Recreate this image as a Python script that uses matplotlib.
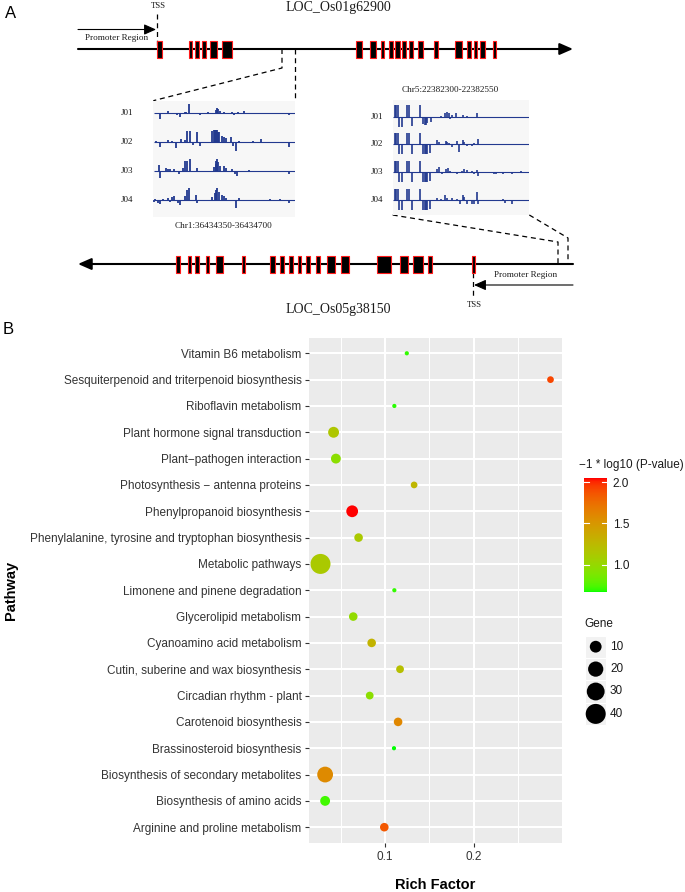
import numpy as np
import matplotlib
matplotlib.use("Agg")
import matplotlib.pyplot as plt
from matplotlib.colors import ListedColormap, Normalize
from matplotlib.cm import ScalarMappable

W, H = 685, 892
SERIF = ["Liberation Serif", "DejaVu Serif"]
SANS = ["Liberation Sans", "DejaVu Sans"]
NAVY = "#22398f"

# ---------------- panel A data ----------------
gene1_exon_start = [157.2, 188.6, 195.2, 201.7, 210.5, 221.8, 355.9, 370.3, 381.2, 388.6,
                    395.2, 401.7, 409.2, 418.3, 434.5, 455.5, 467.2, 473.8, 480.3, 493.4]
gene1_exon_end = [162.4, 192.1, 199.1, 206.1, 216.6, 232.3, 361.6, 376.4, 384.3, 393.0,
                  399.6, 406.1, 413.1, 422.7, 437.6, 461.6, 470.7, 477.3, 484.7, 496.5]
gene2_exon_start = [176.1, 188.4, 195.1, 206.2, 215.7, 241.9, 269.7, 280.4, 289.2, 297.9,
                    306.2, 316.5, 326.9, 341.5, 377.3, 400.3, 413.4, 428.4, 471.7]
gene2_exon_end = [180.0, 191.5, 199.1, 209.4, 222.9, 245.5, 274.9, 284.0, 292.7, 301.5,
                  309.8, 320.1, 334.8, 349.1, 390.7, 408.2, 423.3, 432.0, 474.9]

track_names = ["J01", "J02", "J03", "J04"]

# coverage tracks, (offset in bp, signal); positive = up, negative = down
chr1_j01 = [(16, -18), (35, 6), (46, -3), (57, -5), (64, -12), (76, 4), (80, 5), (86, 28),
            (114, -4), (134, 3), (153, 10), (157, 15), (160, 12), (163, 6), (173, 3),
            (188, -3), (195, 3), (199, -4), (205, -3), (209, 4), (223, 8), (335, -6)]
chr1_j02 = [(6, 3), (16, -14), (35, 6), (46, 5), (54, -16), (68, 10), (76, 6), (83, 35),
            (89, 35), (97, -8), (107, 30), (114, -10), (145, 35), (148, 36), (151, 37),
            (154, 37), (157, 37), (160, 32), (162, 30), (168, 18), (173, 15), (180, 12),
            (192, 15), (197, -10), (203, -25), (211, 5), (246, 3), (265, 10), (335, -13)]
chr1_j03 = [(12, 18), (16, -22), (29, 10), (35, 6), (41, 5), (51, 6), (62, -8), (72, 10),
            (76, 30), (83, 30), (89, 36), (107, 8), (114, -3), (149, 12), (153, 20),
            (155, 30), (157, 35), (160, 28), (163, 15), (173, 15), (180, 8), (195, 5),
            (201, -8), (205, -15), (236, 4), (335, -10)]
chr1_j04 = [(1, -5), (4, 4), (10, -8), (16, -12), (22, 4), (35, 6), (39, -6), (46, 10),
            (51, 12), (60, -10), (64, -15), (76, 12), (83, 30), (87, 35), (105, 15),
            (108, -8), (145, 10), (151, 20), (155, 30), (157, 35), (162, 25), (168, 15),
            (173, 12), (178, 6), (203, -25), (211, 5), (289, 2), (313, 3), (335, -8)]

chr5_head = [(3.1, 35), (5.5, 35), (8.0, 35), (11.0, -30), (16.5, -30), (25.7, 35),
             (29.4, 35), (33.7, -28), (49.0, 35)]
chr5_j01 = chr5_head + [(55.1, -22), (57.6, -26), (60.0, -26), (62.5, -20), (68.6, -15),
                        (87, 3), (95, 12), (98, 15), (101.7, 12), (104.2, -8), (107.2, 4),
                        (115.2, 10), (119.5, -5), (127.4, 5), (134.8, 3), (154.4, 10),
                        (223.6, -5)]
chr5_j02 = chr5_head + [(55.1, -30), (57.6, -30), (60.0, -30), (62.5, -30), (67.4, -25),
                        (80.9, 12), (84.6, 6), (96.8, 10), (99.3, 8), (102.9, 5),
                        (107.2, -8), (116.4, 10), (121.3, -22), (127.4, 12), (130.5, 8),
                        (134.8, -5), (144, -6), (148.3, 5), (156.2, 15)]
chr5_j03 = chr5_head + [(55.1, -30), (57.6, -30), (60.0, -30), (62.5, -30), (67.4, -25),
                        (80.9, 10), (84.6, 15), (88.8, -6), (96.8, 10), (101.1, 12),
                        (104.2, 5), (117.6, -6), (125.6, 5), (130.5, 10), (134.8, 6),
                        (144, 5), (148.3, -6), (153.2, 8), (156.2, -10), (185, -5),
                        (188.7, -5), (201, -5), (217.5, -4), (234, 3)]
chr5_j04 = chr5_head + [(55.1, -30), (57.6, -30), (60.0, -30), (62.5, -30), (67.4, -25),
                        (80.9, 8), (87, 4), (95, 15), (98, 8), (107.8, 6), (117.6, 5),
                        (122.5, -10), (127.4, 15), (130.5, 10), (134.8, -10), (144, -12),
                        (148.3, -12), (153.2, 25), (156.2, -12), (201, 5), (205.3, -8),
                        (217.5, -10)]

# ---------------- panel B data ----------------
pathways = [
    "Vitamin B6 metabolism",
    "Sesquiterpenoid and triterpenoid biosynthesis",
    "Riboflavin metabolism",
    "Plant hormone signal transduction",
    "Plant\u2212pathogen interaction",
    "Photosynthesis \u2212 antenna proteins",
    "Phenylpropanoid biosynthesis",
    "Phenylalanine, tyrosine and tryptophan biosynthesis",
    "Metabolic pathways",
    "Limonene and pinene degradation",
    "Glycerolipid metabolism",
    "Cyanoamino acid metabolism",
    "Cutin, suberine and wax biosynthesis",
    "Circadian rhythm - plant",
    "Carotenoid biosynthesis",
    "Brassinosteroid biosynthesis",
    "Biosynthesis of secondary metabolites",
    "Biosynthesis of amino acids",
    "Arginine and proline metabolism",
]
rich_factor = [0.1245, 0.286, 0.1105, 0.0422, 0.0448, 0.1327, 0.0631, 0.0703, 0.0275, 0.1105,
               0.0643, 0.085, 0.1169, 0.0828, 0.1147, 0.1101, 0.0327, 0.0327, 0.0992]
neg_log_p = [0.70, 1.92, 0.69, 1.15, 0.95, 1.27, 2.045, 1.12, 1.12, 0.70,
             0.98, 1.30, 1.20, 0.95, 1.60, 0.666, 1.58, 0.72, 1.85]
gene_count = [1, 2, 1, 8, 6, 2, 10, 4, 40, 1, 4, 4, 3, 3, 4, 1, 22, 6, 4]
size_breaks = [10, 20, 30, 40]
cbar_ticks = [1.0, 1.5, 2.0]


def fig_box(x0, y0, x1, y1):
    return [x0 / W, 1 - y1 / H, (x1 - x0) / W, (y1 - y0) / H]


# green -> red gradient interpolated in CIELAB (like ggplot's scale_colour_gradient)
_M = np.array([[0.4124, 0.3576, 0.1805], [0.2126, 0.7152, 0.0722], [0.0193, 0.1192, 0.9505]])
_WP = np.array([0.95047, 1.0, 1.08883])


def rgb2lab(rgb):
    c = np.asarray(rgb, float)
    c = np.where(c > 0.04045, ((c + 0.055) / 1.055) ** 2.4, c / 12.92)
    xyz = _M @ c / _WP
    f = np.where(xyz > 0.008856, np.cbrt(xyz), 7.787 * xyz + 16 / 116)
    return np.array([116 * f[1] - 16, 500 * (f[0] - f[1]), 200 * (f[1] - f[2])])


def lab2rgb(lab):
    L, a, b = lab
    fy = (L + 16) / 116
    f = np.array([fy + a / 500, fy, fy - b / 200])
    xyz = np.where(f ** 3 > 0.008856, f ** 3, (f - 16 / 116) / 7.787) * _WP
    c = np.linalg.solve(_M, xyz)
    c = np.clip(c, 0, 1)
    c = np.where(c > 0.0031308, 1.055 * c ** (1 / 2.4) - 0.055, 12.92 * c)
    return np.clip(c, 0, 1)


lab_lo, lab_hi = rgb2lab([0, 1, 0]), rgb2lab([1, 0, 0])
cmap = ListedColormap([lab2rgb(lab_lo + t * (lab_hi - lab_lo)) for t in np.linspace(0, 1, 256)])
norm = Normalize(vmin=min(neg_log_p), vmax=max(neg_log_p))

g_lo, g_hi = min(gene_count), max(gene_count)


def size_pt2(g):
    d_px = 4.2 + 15.8 * np.sqrt((np.asarray(g, float) - g_lo) / (g_hi - g_lo))
    return (d_px * 0.72) ** 2


fig = plt.figure(figsize=(W / 100, H / 100), dpi=100)
ax0 = fig.add_axes([0, 0, 1, 1])
ax0.set_xlim(0, W)
ax0.set_ylim(H, 0)
ax0.axis("off")

txt = dict(family=SERIF, color="#1a1a1a")
dash = dict(color="black", lw=0.9, ls=(0, (4, 3)))

ax0.text(11, 13, "A", family=SANS, fontsize=12, ha="center", va="center")
ax0.text(8, 329, "B", family=SANS, fontsize=12, ha="center", va="center")

# ---- gene 1 (forward) ----
y1 = 49
ax0.annotate("", xy=(573, y1), xytext=(78, y1),
             arrowprops=dict(arrowstyle="-|>,head_length=0.8,head_width=0.35", lw=1.5,
                             color="black", shrinkA=0, shrinkB=0, mutation_scale=10))
ax0.bar(gene1_exon_start, 17, width=np.subtract(gene1_exon_end, gene1_exon_start),
        bottom=y1 - 8.5, align="edge", color="black", edgecolor="#ff1a1a", lw=0.8, zorder=3)
ax0.annotate("", xy=(156, 29.5), xytext=(78, 29.5),
             arrowprops=dict(arrowstyle="-|>,head_length=0.9,head_width=0.4", lw=0.8,
                             color="black", shrinkA=0, shrinkB=0, mutation_scale=8))
ax0.text(117, 38.5, "Promoter Region", fontsize=6.6, ha="center", va="center", **txt)
ax0.plot([157.5, 157.5], [14, y1], **dash)
ax0.text(158, 6, "TSS", fontsize=6.3, ha="center", va="center", **txt)
ax0.text(338, 8, "LOC_Os01g62900", fontsize=10, ha="center", va="center", **txt)

# ---- gene 2 (reverse) ----
y2 = 264
ax0.annotate("", xy=(78, y2), xytext=(573, y2),
             arrowprops=dict(arrowstyle="-|>,head_length=0.8,head_width=0.35", lw=1.5,
                             color="black", shrinkA=0, shrinkB=0, mutation_scale=10))
ax0.bar(gene2_exon_start, 17, width=np.subtract(gene2_exon_end, gene2_exon_start),
        bottom=y2 - 8.5, align="edge", color="black", edgecolor="#ff1a1a", lw=0.8, zorder=3)
ax0.annotate("", xy=(474, 285), xytext=(573, 285),
             arrowprops=dict(arrowstyle="-|>,head_length=0.9,head_width=0.4", lw=0.8,
                             color="black", shrinkA=0, shrinkB=0, mutation_scale=8))
ax0.text(526, 275, "Promoter Region", fontsize=6.6, ha="center", va="center", **txt)
ax0.plot([473.5, 473.5], [y2, 298], **dash)
ax0.text(474, 305, "TSS", fontsize=6.3, ha="center", va="center", **txt)
ax0.text(338, 309, "LOC_Os05g38150", fontsize=10, ha="center", va="center", **txt)


def draw_tracks(box, length, tracks, bases, ybottom, label_off, bar_lw):
    ax = fig.add_axes(fig_box(*box))
    ax.set_facecolor("#f7f7f7")
    ax.set_xlim(-length * 0.004, length)
    ax.set_ylim(ybottom, 0)
    for name, data, base in zip(track_names, tracks, bases):
        pos = [p for p, h in data]
        hts = np.array([h for p, h in data], float)
        ax.vlines(pos, base, base - hts, color=NAVY, lw=bar_lw)
        ax.hlines(base, 0, length, color=NAVY, lw=0.8)
        ax.annotate(name, xy=(0, base), xycoords=ax.get_yaxis_transform(),
                    xytext=(-label_off, 0), textcoords="offset points",
                    ha="center", va="center", fontsize=6.5, annotation_clip=False, **txt)
    for s in ax.spines.values():
        s.set_visible(False)
    ax.set_xticks([])
    ax.set_yticks([])
    return ax


box1 = (153.3, 100.7, 295, 216.7)
box2 = (392.7, 100, 529.3, 215)
draw_tracks(box1, 350, [chr1_j01, chr1_j02, chr1_j03, chr1_j04], [38, 125, 211, 298], 348, 19, 1.3)
draw_tracks(box2, 250, [chr5_j01, chr5_j02, chr5_j03, chr5_j04], [50, 133, 217, 301], 345, 11.5, 1.2)
ax0.text(224, 226, "Chr1:36434350-36434700", fontsize=6.6, ha="center", va="center", **txt)
ax0.text(450, 90, "Chr5:22382300-22382550", fontsize=6.6, ha="center", va="center", **txt)

# connectors
ax0.plot([282, 282, box1[0]], [y1, 68, box1[1]], **dash)
ax0.plot([295.5, 295.5], [y1, box1[1]], **dash)
ax0.plot([box2[0], 558, 558], [box2[3], 242, y2], **dash)
ax0.plot([box2[2], 568, 568], [box2[3], 238, y2], **dash)

# ---------------- panel B ----------------
axb = fig.add_axes(fig_box(309, 337.5, 562, 843))
axb.set_facecolor("#ebebeb")
ypos = np.arange(len(pathways))
axb.scatter(rich_factor, ypos, s=size_pt2(gene_count), c=neg_log_p, cmap=cmap, norm=norm,
            edgecolors="none", zorder=3)
lo, hi = min(rich_factor), max(rich_factor)
pad = 0.05 * (hi - lo)
axb.set_xlim(lo - pad, hi + pad)
axb.set_ylim(len(pathways) - 0.4, -0.6)
axb.set_xticks([0.1, 0.2])
axb.set_xticklabels(["0.1", "0.2"])
axb.set_xticks([0.05, 0.15, 0.25], minor=True)
axb.set_yticks(ypos)
axb.set_yticklabels(pathways)
axb.grid(which="major", color="white", lw=1.5)
axb.grid(which="minor", axis="x", color="white", lw=0.75)
axb.set_axisbelow(True)
for s in axb.spines.values():
    s.set_visible(False)
axb.tick_params(which="major", length=2.9, width=0.8, color="#333333", labelsize=8.5,
                labelcolor="#333333", pad=2.5)
axb.tick_params(which="minor", length=0)
for lab in axb.get_xticklabels() + axb.get_yticklabels():
    lab.set_family(SANS)
axb.set_xlabel("Rich Factor", family=SANS, fontsize=10.5, fontweight="bold", va="center")
axb.xaxis.set_label_coords(0.5, (843 - 885) / 505.5)
axb.set_ylabel("Pathway", family=SANS, fontsize=10.5, fontweight="bold", va="center", ha="center")
axb.yaxis.set_label_coords((11 - 309) / 253, 0.5)

# colour bar legend
cax = fig.add_axes(fig_box(584, 478.3, 606.7, 592.3))
cb = fig.colorbar(ScalarMappable(norm=norm, cmap=cmap), cax=cax)
cb.outline.set_visible(False)
cb.set_ticks(cbar_ticks)
cb.set_ticklabels(["%.1f" % t for t in cbar_ticks])
cax.tick_params(length=0, labelsize=8.5, pad=4.3, labelcolor="#1a1a1a")
for lab in cax.get_yticklabels():
    lab.set_family(SANS)
for t in cbar_ticks:
    cax.plot([0, 0.2], [t, t], color="white", lw=0.8, transform=cax.get_yaxis_transform())
    cax.plot([0.8, 1], [t, t], color="white", lw=0.8, transform=cax.get_yaxis_transform())
ax0.text(579.5, 465, "\u22121 * log10 (P-value)", family=SANS, fontsize=8.5, ha="left",
         va="center", color="#1a1a1a")

# size legend
ax0.text(584, 624, "Gene", family=SANS, fontsize=8.5, ha="left", va="center", color="#1a1a1a")
key_y = [646.7, 669.1, 691.5, 713.9]
for yk, g in zip(key_y, size_breaks):
    ax0.add_patch(plt.Rectangle((585, yk - 11.2), 21.5, 22.4, fc="#f2f2f2", ec="white", lw=0.8))
    ax0.text(610, yk, str(g), family=SANS, fontsize=8.5, ha="left", va="center", color="#1a1a1a")
ax0.scatter([595.7] * len(size_breaks), key_y, s=size_pt2(size_breaks), color="black",
            edgecolors="none", zorder=4)

fig.savefig("out.png", dpi=100)
